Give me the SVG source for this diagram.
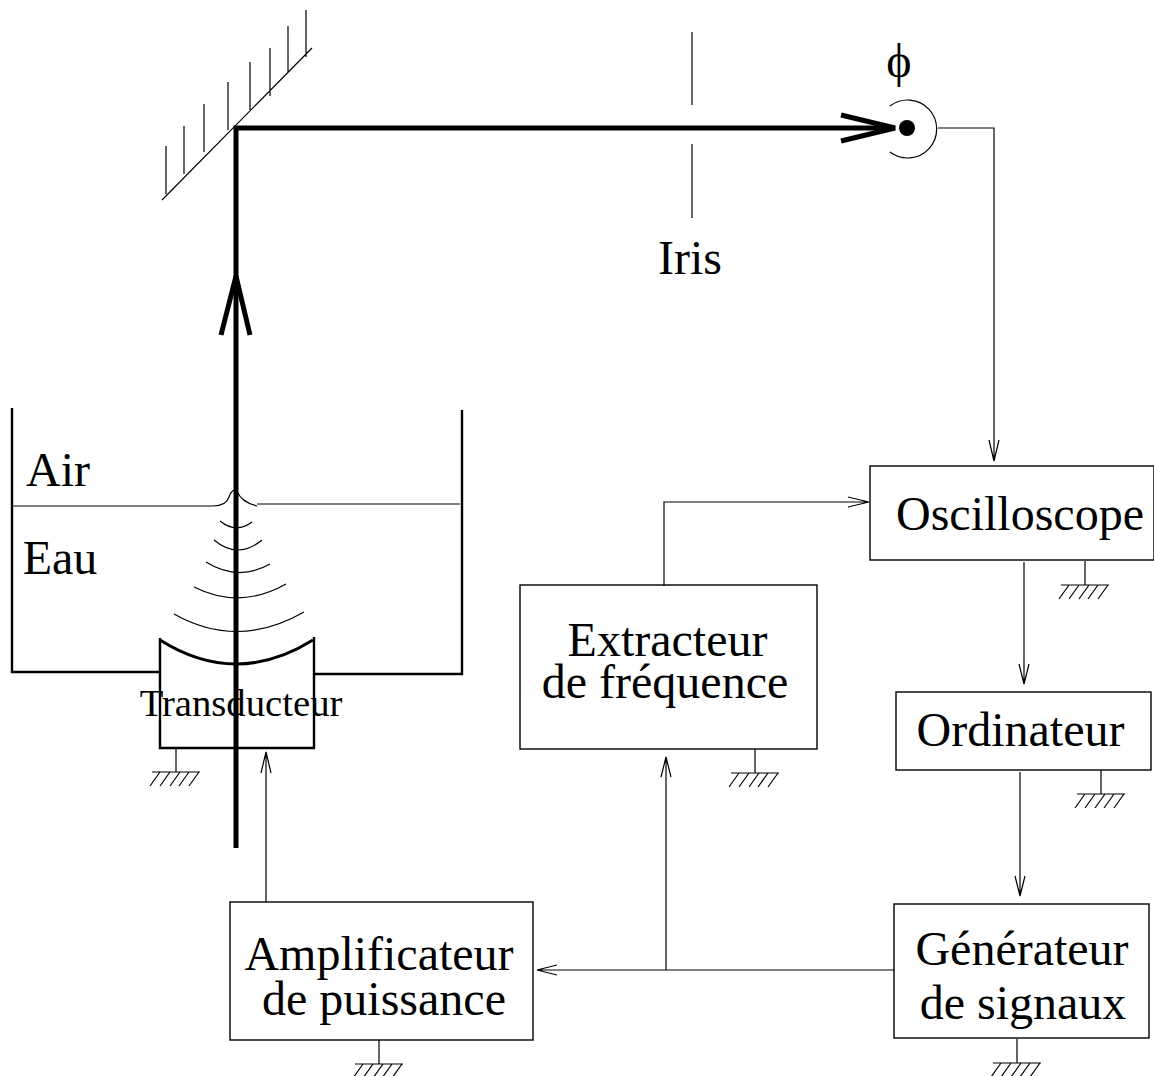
<svg xmlns="http://www.w3.org/2000/svg" width="1154" height="1076" viewBox="0 0 1154 1076">
<defs>
<g id="gnd" fill="none" stroke="#000" stroke-width="1.2"><path d="M0 0V24M-24 24H24M-26 38L-16 24M-16 38L-6 24M-6 38L4 24M3 38L13 24M13 38L23 24"/></g>
</defs>
<style>
text{font-family:"Liberation Serif","Times New Roman",serif;fill:#000;text-anchor:middle}
.l{font-size:48px}
.box{fill:none;stroke:#000;stroke-width:1.4}
.thin{fill:none;stroke:#000;stroke-width:1.2}
.med{fill:none;stroke:#000;stroke-width:2.4}
.thick{fill:none;stroke:#000;stroke-width:5}
</style>
<rect width="1154" height="1076" fill="#fff"/>
<g id="mirror"><path class="thin" d="M162 200L312 48M166 194V146M184 174V126M204 152V104M228 130V82M250 110V62M270 96V48M288 72V26M306 57V10"/></g>
<g id="iris"><path class="thin" d="M692 32V105M692 144V218"/><text class="l" x="690" y="274">Iris</text></g>
<g id="detector"><circle cx="907" cy="128" r="8"/><path class="thin" d="M890 106A29 29 0 1 1 890 152"/><text x="899" y="77" font-size="48">ϕ</text></g>
<g id="tank">
<path class="med" d="M12 408V672H161M462 410V674H313"/>
<path class="thin" d="M12 506H213Q226 506 229 497Q232 488 237 491Q241 502 257 506M257 504H460"/>
<path class="thin" d="M220 521Q236 534 252 522M214 540Q238 560 262 540M206 562Q238 582 270 564M194 587Q240 610 286 584M174 614Q238 650 304 612"/>
<text class="l" x="58" y="486">Air</text><text class="l" x="60" y="574">Eau</text>
</g>
<g id="transducer">
<path class="med" d="M160 638V748H314V637"/>
<path d="M160 640Q236 688 313 640" fill="none" stroke="#000" stroke-width="3"/>
<text x="241" y="716" font-size="38.7">Transducteur</text>
<use href="#gnd" x="176" y="748"/>
</g>
<g id="oscilloscope"><rect class="box" x="870" y="466" width="284" height="94"/><text class="l" x="1020" y="530">Oscilloscope</text><use href="#gnd" x="1085" y="561"/></g>
<g id="extracteur"><rect class="box" x="520" y="585" width="297" height="164"/><text class="l" x="667.500" y="656">Extracteur</text><text class="l" x="665" y="698">de fréquence</text><use href="#gnd" x="755" y="749"/></g>
<g id="ordinateur"><rect class="box" x="896" y="692" width="255" height="78"/><text class="l" x="1020.500" y="746">Ordinateur</text><use href="#gnd" x="1101" y="770"/></g>
<g id="generateur"><rect class="box" x="894" y="904" width="255" height="134"/><text class="l" x="1022" y="965">Générateur</text><text class="l" x="1023" y="1019">de signaux</text><use href="#gnd" x="1017" y="1039"/></g>
<g id="amplificateur"><rect class="box" x="230" y="902" width="303" height="138"/><text class="l" x="379" y="970">Amplificateur</text><text class="l" x="384" y="1015">de puissance</text><use href="#gnd" x="379" y="1040"/></g>
<g id="connectors">
<path class="thick" d="M236 848V128H895"/>
<path class="thick" d="M221 335L236 276L250 335M841 115L895 128L841 141"/>
<path class="thin" d="M938 128H994V461M989 440L994 461L999 440"/>
<path class="thin" d="M664 586V502H869M848 497L869 502L848 507"/>
<path class="thin" d="M1024 562V684M1019 664L1024 684L1029 664"/>
<path class="thin" d="M1020 772V896M1015 876L1020 896L1025 876"/>
<path class="thin" d="M894 970H537M557 965L537 970L557 975"/>
<path class="thin" d="M666 970V757M661 777L666 757L671 777"/>
<path class="thin" d="M266 902V752M261 773L266 752L271 773"/>
</g>
</svg>
